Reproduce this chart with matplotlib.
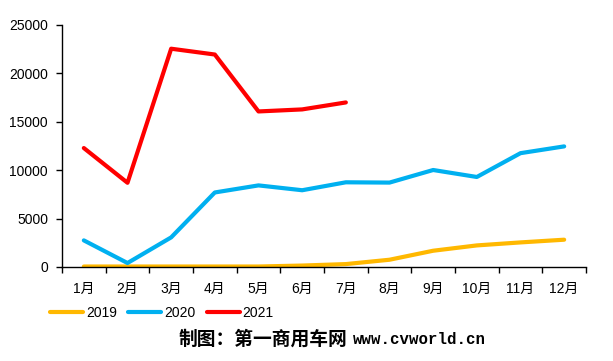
import matplotlib
matplotlib.use("Agg")
import matplotlib.pyplot as plt
import numpy as np

months = ["1月", "2月", "3月", "4月", "5月", "6月", "7月", "8月", "9月", "10月", "11月", "12月"]
s2019 = [50, 50, 50, 50, 50, 150, 300, 750, 1680, 2230, 2540, 2820]
s2020 = [2750, 410, 3060, 7700, 8430, 7930, 8750, 8720, 10020, 9300, 11760, 12460]
s2021 = [12290, 8700, 22550, 21950, 16070, 16280, 17000]
yticks = [0, 5000, 10000, 15000, 20000, 25000]

fam = ["Liberation Sans", "Noto Sans CJK SC"]
plt.rcParams["font.family"] = fam

fig = plt.figure(figsize=(6.13, 3.61), dpi=100)
ax = fig.add_axes([62/613, 1-267/361, (586-62)/613, (267-25)/361])

x = np.arange(len(months)) + 0.5
lw = 3.0
ax.plot(x, s2019, color="#FFB800", lw=lw, label="2019", solid_capstyle="round")
ax.plot(x, s2020, color="#00B0F0", lw=lw, label="2020", solid_capstyle="round")
ax.plot(x[:len(s2021)], s2021, color="#FF0000", lw=lw, label="2021", solid_capstyle="round")

ax.set_xlim(0, 12)
ax.set_ylim(0, 25000)
ax.set_yticks(yticks)
ax.set_yticklabels([str(v) for v in yticks])
ax.set_xticks(np.arange(13))
ax.set_xticklabels([])
ax.set_xticks(x, minor=True)
ax.set_xticklabels(months, minor=True)
ax.tick_params(axis="x", which="major", direction="out", length=4, width=1)
ax.tick_params(axis="x", which="minor", length=0, pad=10.5, labelsize=10)
ax.tick_params(axis="y", direction="out", length=4, width=1, pad=6, labelsize=10)
for s in ["top", "right"]:
    ax.spines[s].set_visible(False)
ax.spines["left"].set_linewidth(1)
ax.spines["bottom"].set_linewidth(1)

fig.legend(loc="center left", bbox_to_anchor=(50/613, 1-313/361), ncol=3, frameon=False,
           fontsize=10, handlelength=2.4, handletextpad=0.2, columnspacing=0.8,
           borderaxespad=0, borderpad=0)

fig.text(347/613, 1-339/361, "制图：第一商用车网", ha="right", va="center",
         fontsize=13.5, fontweight="bold", family=["Noto Sans CJK SC", "DejaVu Sans"])
fig.text(353/613, 1-339/361, "www.cvworld.cn", ha="left", va="center",
         fontsize=11.3, fontweight="bold", family=["Liberation Mono", "DejaVu Sans Mono"])

fig.savefig("out.png", dpi=100)
